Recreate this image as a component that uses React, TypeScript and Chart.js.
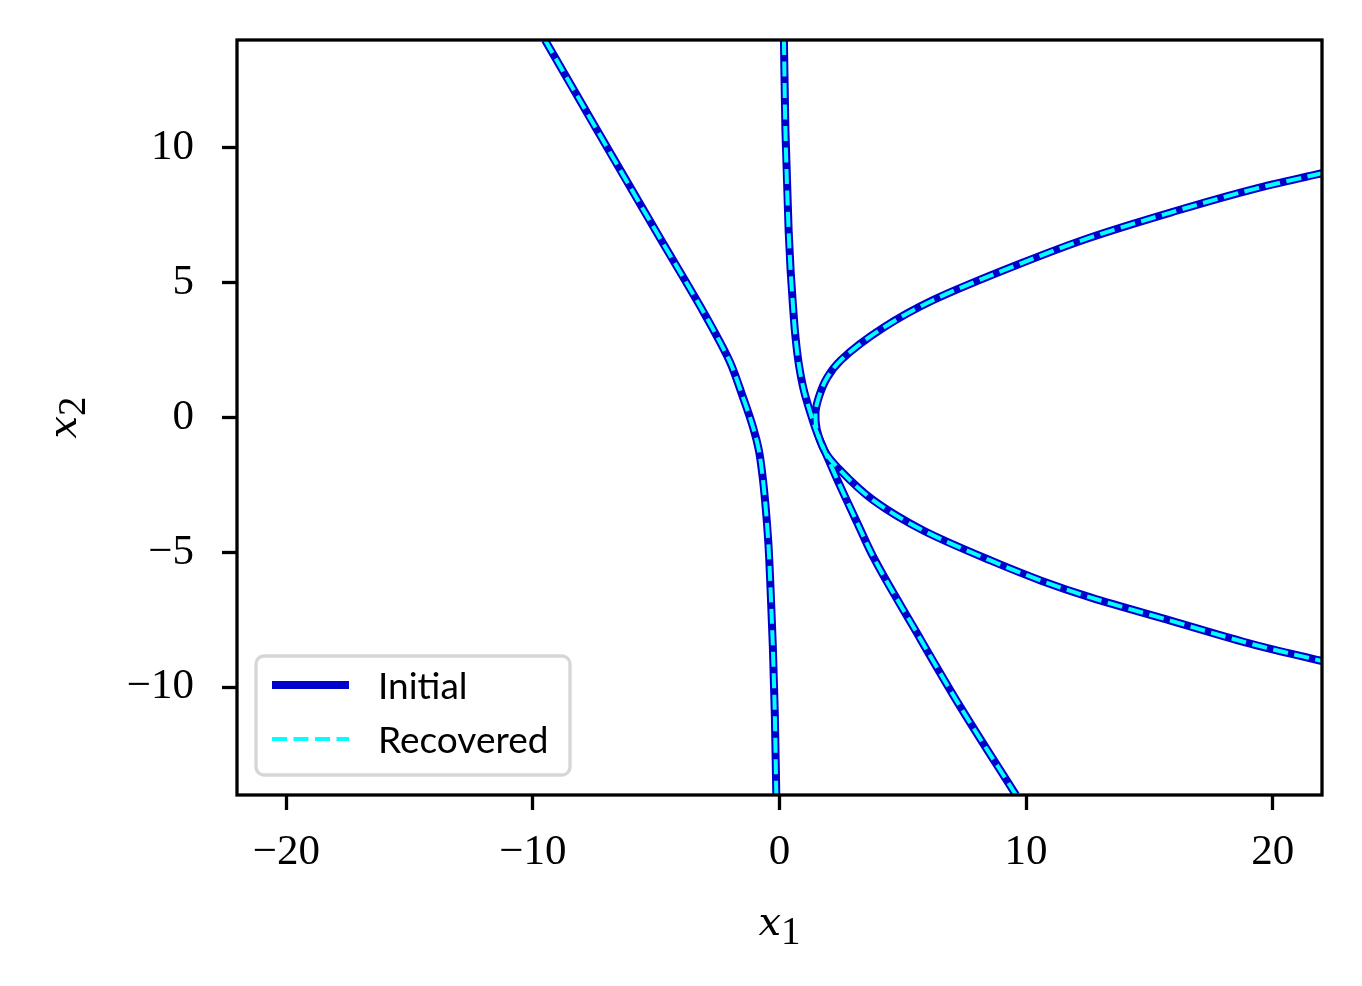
import React, { useEffect, useRef } from "react";
import { Chart, registerables } from "chart.js";

Chart.register(...registerables);

// Axis ticks
const xTicks = [-20, -10, 0, 10, 20];
const yTicks = [-10, -5, 0, 5, 10];
const xRange = [-22, 22];
const yRange = [-14, 14];

// Branch A (left curve)
const branchAX = [-9.51, -7.4, -4.96, -3.05, -2.45, -1.98, -1.52, -1.06, -0.84, -0.68, -0.56, -0.45, -0.36, -0.27, -0.19, -0.13];
const branchAY = [14.0, 10.66, 6.83, 3.86, 2.86, 2.0, 0.85, -0.4, -1.2, -2.23, -3.34, -4.68, -6.42, -8.5, -11.0, -14.0];

// Branch B (middle curve)
const branchBX = [0.18, 0.24, 0.37, 0.45, 0.54, 0.65, 0.78, 0.99, 1.26, 1.53, 1.79, 2.36, 3.17, 3.82, 5.45, 7.36, 9.59];
const branchBY = [14.0, 10.66, 6.94, 5.46, 4.23, 2.97, 2.0, 1.0, 0.15, -0.59, -1.15, -2.34, -3.94, -5.2, -7.8, -10.77, -14.0];

// Branch C (right, parabola-like curve)
const branchCX = [22.0, 19.27, 15.89, 12.52, 9.8, 6.2, 4.23, 2.48, 1.94, 1.59, 1.46, 1.47, 1.6, 1.9, 2.36, 3.82, 5.85, 8.58, 10.61, 12.64, 15.89, 19.27, 22.0];
const branchCY = [9.06, 8.48, 7.61, 6.65, 5.72, 4.34, 3.34, 2.12, 1.49, 0.74, 0.15, -0.2, -0.74, -1.35, -1.86, -3.08, -4.2, -5.31, -6.05, -6.68, -7.54, -8.43, -9.03];

const seriesLabels = ["Initial", "Recovered"];
const initialColor = "#0000CD";
const recoveredColor = "#00FFFF";

const toPts = (xs: number[], ys: number[]) => xs.map((x, i) => ({ x, y: ys[i] }));

const fmt = (v: number) => (v < 0 ? "\u2212" + Math.abs(v) : String(v));

const overlayPlugin = {
  id: "overlay",
  afterDraw(chart: any) {
    const { ctx, chartArea } = chart;
    const { left, right, top, bottom } = chartArea;
    ctx.save();
    // frame
    ctx.strokeStyle = "#000";
    ctx.lineWidth = 3.3;
    ctx.strokeRect(left, top, right - left, bottom - top);

    // x-axis title
    ctx.fillStyle = "#000";
    ctx.textBaseline = "alphabetic";
    ctx.textAlign = "left";
    const mainFont = 'italic 40px "DejaVu Serif", serif';
    const subFont = '39px "Liberation Serif", serif';
    ctx.font = mainFont;
    const wx = ctx.measureText("x").width;
    ctx.font = subFont;
    const w1 = ctx.measureText("1").width;
    const cx = (left + right) / 2;
    const sx = cx - (wx + w1) / 2;
    ctx.font = mainFont;
    ctx.fillText("x", sx, 935);
    ctx.font = subFont;
    ctx.fillText("1", sx + wx, 944);

    // y-axis title
    ctx.save();
    ctx.translate(76, (top + bottom) / 2);
    ctx.rotate(-Math.PI / 2);
    ctx.font = subFont;
    const w2 = ctx.measureText("2").width;
    const sy = -(wx + w2) / 2;
    ctx.font = mainFont;
    ctx.fillText("x", sy, 0);
    ctx.font = subFont;
    ctx.fillText("2", sy + wx, 9);
    ctx.restore();

    // legend
    const bx = 256, by = 656, bw = 314, bh = 119, r = 8;
    ctx.beginPath();
    ctx.moveTo(bx + r, by);
    ctx.arcTo(bx + bw, by, bx + bw, by + bh, r);
    ctx.arcTo(bx + bw, by + bh, bx, by + bh, r);
    ctx.arcTo(bx, by + bh, bx, by, r);
    ctx.arcTo(bx, by, bx + bw, by, r);
    ctx.closePath();
    ctx.fillStyle = "rgba(255,255,255,0.8)";
    ctx.fill();
    ctx.strokeStyle = "#d6d6d6";
    ctx.lineWidth = 3.3;
    ctx.stroke();

    const entries = [
      { label: seriesLabels[0], color: initialColor, width: 8, dash: [] as number[], y: 685 },
      { label: seriesLabels[1], color: recoveredColor, width: 4, dash: [15, 6.5], y: 739 },
    ];
    entries.forEach((e) => {
      ctx.beginPath();
      ctx.setLineDash(e.dash);
      ctx.lineCap = "butt";
      ctx.strokeStyle = e.color;
      ctx.lineWidth = e.width;
      ctx.moveTo(272, e.y);
      ctx.lineTo(349, e.y);
      ctx.stroke();
      ctx.setLineDash([]);
      ctx.fillStyle = "#000";
      ctx.font = '37px "Lato", sans-serif';
      ctx.textBaseline = "middle";
      ctx.fillText(e.label, 378, e.y + 2);
    });
    ctx.restore();
  },
};

export default function App() {
  const canvasRef = useRef<HTMLCanvasElement | null>(null);

  useEffect(() => {
    if (!canvasRef.current) return;
    const branches = [
      [branchAX, branchAY],
      [branchBX, branchBY],
      [branchCX, branchCY],
    ];
    const datasets: any[] = [];
    branches.forEach(([xs, ys]) => {
      datasets.push({
        label: seriesLabels[1],
        data: toPts(xs, ys),
        indexAxis: "y",
        borderColor: recoveredColor,
        borderWidth: 4,
        borderDash: [15, 6.5],
        pointRadius: 0,
        pointHoverRadius: 0,
        cubicInterpolationMode: "monotone",
        fill: false,
        clip: 0,
        order: 0,
      });
      datasets.push({
        label: seriesLabels[0],
        data: toPts(xs, ys),
        indexAxis: "y",
        borderColor: initialColor,
        borderWidth: 8,
        pointRadius: 0,
        pointHoverRadius: 0,
        cubicInterpolationMode: "monotone",
        fill: false,
        clip: 0,
        order: 1,
      });
    });

    const tickFont = { family: '"Liberation Serif", serif', size: 43 };
    const chart = new Chart(canvasRef.current, {
      type: "line",
      data: { datasets },
      options: {
        animation: false,
        responsive: false,
        devicePixelRatio: 1,
        layout: { padding: { top: 40, right: 40, left: 0, bottom: 0 } },
        plugins: { legend: { display: false }, tooltip: { enabled: false } },
        scales: {
          x: {
            type: "linear",
            position: "bottom",
            min: xRange[0],
            max: xRange[1],
            afterBuildTicks: (axis: any) => {
              axis.ticks = xTicks.map((v) => ({ value: v }));
            },
            afterFit: (scale: any) => {
              scale.height = 191;
              scale.paddingLeft = 0;
              scale.paddingRight = 0;
            },
            ticks: {
              autoSkip: false,
              maxRotation: 0,
              padding: 17,
              color: "#000",
              font: tickFont,
              callback: (v: any) => fmt(Number(v)),
            },
            grid: {
              drawOnChartArea: false,
              drawTicks: true,
              tickLength: 15,
              tickWidth: 3.3,
              tickColor: "#000",
            },
            border: { display: false },
          },
          y: {
            type: "linear",
            position: "left",
            min: yRange[0],
            max: yRange[1],
            afterBuildTicks: (axis: any) => {
              axis.ticks = yTicks.map((v) => ({ value: v }));
            },
            afterFit: (scale: any) => {
              scale.width = 237;
              scale.paddingTop = 0;
              scale.paddingBottom = 0;
            },
            ticks: {
              autoSkip: false,
              padding: 28,
              color: "#000",
              font: tickFont,
              callback: (v: any) => fmt(Number(v)),
            },
            grid: {
              drawOnChartArea: false,
              drawTicks: true,
              tickLength: 15,
              tickWidth: 3.3,
              tickColor: "#000",
            },
            border: { display: false },
          },
        },
      },
      plugins: [overlayPlugin],
    });
    return () => chart.destroy();
  }, []);

  return (
    <div style={{ position: "absolute", left: 0, top: 0, width: 1362, height: 986, background: "#fff" }}>
      <canvas ref={canvasRef} width={1362} height={986} style={{ width: 1362, height: 986 }} />
    </div>
  );
}
